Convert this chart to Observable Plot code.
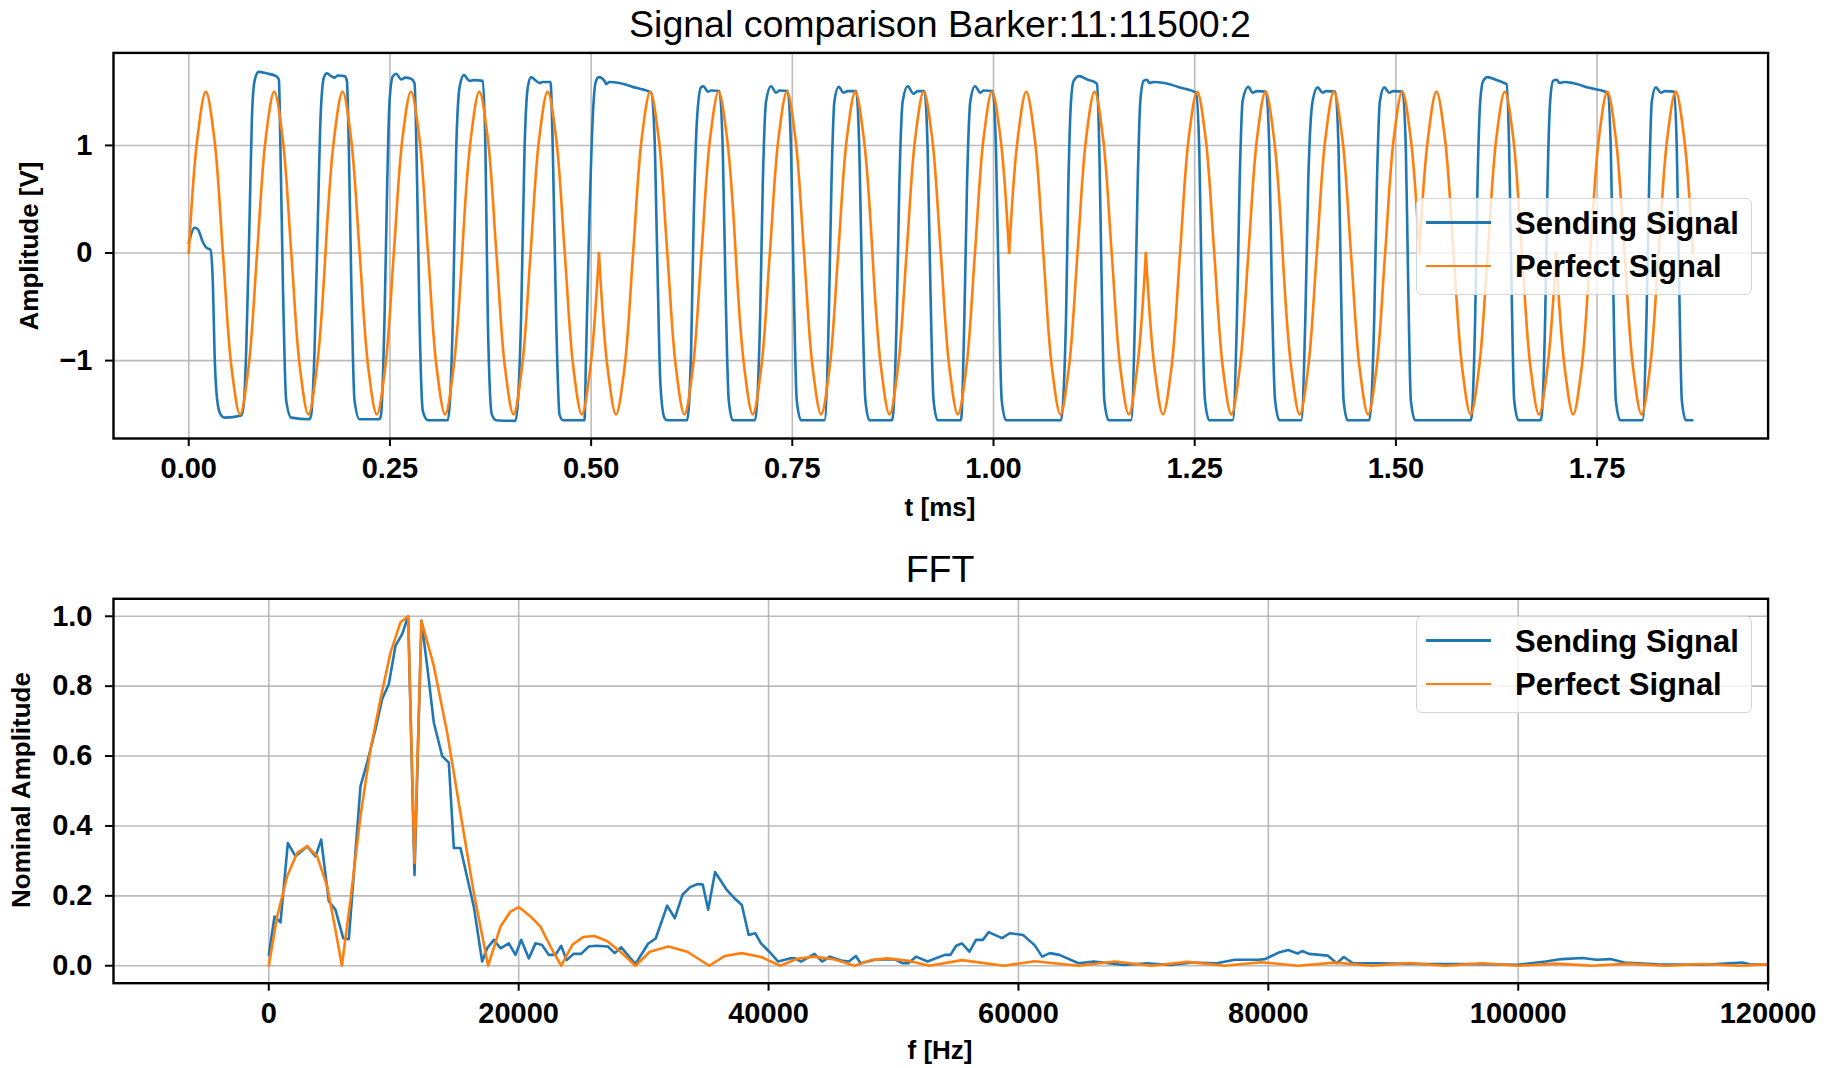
<!DOCTYPE html>
<html>
<head>
<meta charset="utf-8">
<script src="https://cdn.jsdelivr.net/npm/d3@7"></script>
<script src="https://cdn.jsdelivr.net/npm/@observablehq/plot@0.6"></script>
<style>
  html, body { margin: 0; padding: 0; background: #fff; }
  #fig { position: relative; width: 1827px; height: 1068px; background: #fff; overflow: hidden;
         font-family: "Liberation Sans", Arial, sans-serif; color: #000; }
  .abs { position: absolute; white-space: nowrap; line-height: 1; }
  .title { font-size: 37.5px; font-weight: normal; transform: translate(-50%, -50%); }
  .xlabel { font-size: 26px; font-weight: bold; transform: translate(-50%, -50%); }
  .ylabel { font-size: 26px; font-weight: bold; transform: translate(-50%, -50%) rotate(-90deg); }
  .legend { position: absolute; background: rgba(255,255,255,0.8); border: 1.5px solid #d6d6d6;
            border-radius: 6px; box-sizing: border-box; }
  .legend .ln { position: absolute; height: 2.6px; width: 65px; left: 9px; }
  .legend .lt { position: absolute; left: 98px; font-size: 31px; font-weight: bold; line-height: 1;
                transform: translateY(-50%); white-space: nowrap; }
  svg { position: absolute; left: 0; }
</style>
</head>
<body>
<div id="fig"></div>
<script>
// ---------------- DATA ----------------
// Top panel: time axis ticks (ms) and amplitude ticks (V)
const timeTicks = [0, 0.25, 0.5, 0.75, 1.0, 1.25, 1.5, 1.75];
const ampTicks = [-1, 0, 1];

// Perfect signal: samples every 1/8 carrier period (ms step), grouped per Barker chip (17 samples each, shared edges)
const perfectDt = 0.010619;
const perfectChips = [
  [0, 1.06, 1.5, 1.06, 0, -1.06, -1.5, -1.06, 0, 1.06, 1.5, 1.06, 0, -1.06, -1.5, -1.06, 0],
  [0, 1.06, 1.5, 1.06, 0, -1.06, -1.5, -1.06, 0, 1.06, 1.5, 1.06, 0, -1.06, -1.5, -1.06, 0],
  [0, 1.06, 1.5, 1.06, 0, -1.06, -1.5, -1.06, 0, 1.06, 1.5, 1.06, 0, -1.06, -1.5, -1.06, 0],
  [0, -1.06, -1.5, -1.06, 0, 1.06, 1.5, 1.06, 0, -1.06, -1.5, -1.06, 0, 1.06, 1.5, 1.06, 0],
  [0, -1.06, -1.5, -1.06, 0, 1.06, 1.5, 1.06, 0, -1.06, -1.5, -1.06, 0, 1.06, 1.5, 1.06, 0],
  [0, -1.06, -1.5, -1.06, 0, 1.06, 1.5, 1.06, 0, -1.06, -1.5, -1.06, 0, 1.06, 1.5, 1.06, 0],
  [0, 1.06, 1.5, 1.06, 0, -1.06, -1.5, -1.06, 0, 1.06, 1.5, 1.06, 0, -1.06, -1.5, -1.06, 0],
  [0, -1.06, -1.5, -1.06, 0, 1.06, 1.5, 1.06, 0, -1.06, -1.5, -1.06, 0, 1.06, 1.5, 1.06, 0],
  [0, -1.06, -1.5, -1.06, 0, 1.06, 1.5, 1.06, 0, -1.06, -1.5, -1.06, 0, 1.06, 1.5, 1.06, 0],
  [0, 1.06, 1.5, 1.06, 0, -1.06, -1.5, -1.06, 0, 1.06, 1.5, 1.06, 0, -1.06, -1.5, -1.06, 0],
  [0, -1.06, -1.5, -1.06, 0, 1.06, 1.5, 1.06, 0, -1.06, -1.5, -1.06, 0, 1.06, 1.5, 1.06, 0]
];

// Sending signal: [t (ms), amplitude (V)] vertices
const sendingPts = [
  [0.000, 0.09], [0.0073, 0.235], [0.0114, 0.22], [0.0176, 0.10], [0.0218, 0.05], [0.027, 0.03],
  [0.030, -0.29], [0.032, -0.91], [0.0354, -1.37], [0.0395, -1.50], [0.0445, -1.53], [0.0652, -1.51],
  [0.0685, -1.40], [0.0714, -0.91], [0.0756, 0.33], [0.0785, 1.26], [0.0818, 1.60], [0.0867, 1.684], [0.0963, 1.67], [0.1087, 1.644], [0.112, 1.61],
  [0.114, 0.95], [0.117, -0.29], [0.1211, -1.37], [0.1273, -1.53], [0.150, -1.545],
  [0.152, -1.51], [0.1563, -0.91], [0.1605, 0.33], [0.1638, 1.26], [0.1679, 1.63], [0.1716, 1.67], [0.177, 1.644], [0.1812, 1.63], [0.1853, 1.65], [0.1936, 1.644], [0.1965, 1.60],
  [0.199, 0.95], [0.202, -0.29], [0.206, -1.37], [0.2122, -1.545], [0.237, -1.545],
  [0.239, -1.50], [0.2433, -0.60], [0.2466, 0.64], [0.2495, 1.41], [0.2536, 1.644], [0.2578, 1.666], [0.264, 1.613], [0.2689, 1.63], [0.2764, 1.62], [0.2805, 1.58],
  [0.2838, 0.64], [0.2867, -0.60], [0.2909, -1.47], [0.2971, -1.554], [0.322, -1.554],
  [0.3282, -0.60], [0.3323, 0.95], [0.3365, 1.54], [0.3418, 1.653], [0.3489, 1.60], [0.3542, 1.607], [0.3654, 1.60],
  [0.3687, 0.95], [0.3716, -0.60], [0.3766, -1.50], [0.382, -1.554], [0.406, -1.56],
  [0.413, -0.60], [0.4172, 0.95], [0.4213, 1.54], [0.4255, 1.635], [0.4296, 1.613], [0.4358, 1.58], [0.44, 1.59], [0.4495, 1.59],
  [0.4524, 0.95], [0.4565, -0.60], [0.4607, -1.50], [0.4650, -1.554], [0.4917, -1.554],
  [0.4938, -0.91], [0.4979, 0.33], [0.502, 1.26], [0.5054, 1.58], [0.5095, 1.635], [0.5166, 1.60], [0.5186, 1.57], [0.5227, 1.59], [0.5352, 1.58], [0.5559, 1.535], [0.5745, 1.49],
  [0.5787, 1.10], [0.582, 0.02], [0.5861, -1.22], [0.591, -1.53], [0.5944, -1.554], [0.6192, -1.554],
  [0.6242, -0.91], [0.6275, 0.33], [0.6317, 1.26], [0.6366, 1.54], [0.6395, 1.55], [0.645, 1.50], [0.6491, 1.51], [0.6594, 1.505],
  [0.6636, 0.95], [0.6669, -0.29], [0.671, -1.37], [0.676, -1.554], [0.7037, -1.554],
  [0.710, -0.60], [0.7133, 0.64], [0.7174, 1.41], [0.7236, 1.55], [0.7298, 1.49], [0.734, 1.51], [0.7443, 1.505],
  [0.7484, 0.95], [0.7517, -0.29], [0.7555, -1.37], [0.7609, -1.554], [0.7899, -1.554],
  [0.7953, -0.60], [0.7986, 0.64], [0.8023, 1.41], [0.8077, 1.545], [0.8135, 1.49], [0.8189, 1.505], [0.8292, 1.505],
  [0.8333, 0.95], [0.8366, -0.29], [0.8408, -1.37], [0.8458, -1.554], [0.874, -1.554],
  [0.8797, -0.60], [0.883, 0.64], [0.8872, 1.41], [0.8934, 1.55], [0.9005, 1.48], [0.9058, 1.505], [0.9141, 1.505],
  [0.9182, 0.95], [0.9215, -0.29], [0.9255, -1.37], [0.9306, -1.554], [0.9596, -1.554],
  [0.9638, -0.60], [0.9671, 0.64], [0.9712, 1.41], [0.977, 1.55], [0.9837, 1.49], [0.9878, 1.51], [0.999, 1.505],
  [1.0031, 0.95], [1.0064, -0.29], [1.0102, -1.37], [1.0156, -1.554], [1.0839, -1.554],
  [1.0901, -0.60], [1.093, 0.64], [1.0963, 1.41], [1.0996, 1.60], [1.1066, 1.644], [1.117, 1.61], [1.1253, 1.59], [1.1286, 1.57],
  [1.1315, 0.95], [1.1344, -0.29], [1.1377, -1.37], [1.1431, -1.554], [1.1708, -1.554],
  [1.1758, -0.60], [1.1791, 0.64], [1.1824, 1.41], [1.1866, 1.60], [1.1907, 1.61], [1.1936, 1.58], [1.199, 1.59], [1.2123, 1.58], [1.233, 1.535], [1.2516, 1.49],
  [1.2557, 0.95], [1.2586, -0.29], [1.2628, -1.37], [1.2681, -1.554], [1.2971, -1.554],
  [1.3025, -0.60], [1.3058, 0.64], [1.3095, 1.41], [1.3166, 1.545], [1.322, 1.49], [1.3274, 1.505], [1.3386, 1.50],
  [1.3428, 0.95], [1.3457, -0.29], [1.3499, -1.37], [1.3553, -1.554], [1.3823, -1.554],
  [1.3875, -0.60], [1.3910, 0.64], [1.3965, 1.41], [1.4027, 1.54], [1.4089, 1.49], [1.4131, 1.505], [1.4247, 1.50],
  [1.4288, 0.95], [1.4317, -0.29], [1.435, -1.37], [1.44, -1.554], [1.4669, -1.554],
  [1.4731, -0.60], [1.4764, 0.64], [1.4801, 1.41], [1.4855, 1.54], [1.4917, 1.49], [1.4967, 1.505], [1.5083, 1.50],
  [1.5124, 0.95], [1.5153, -0.29], [1.5186, -1.37], [1.524, -1.554], [1.5932, -1.554],
  [1.5985, -0.60], [1.6014, 0.64], [1.6048, 1.41], [1.6085, 1.60], [1.6139, 1.635], [1.6242, 1.61], [1.6346, 1.58], [1.6375, 1.57],
  [1.6408, 0.95], [1.6437, -0.29], [1.647, -1.37], [1.6524, -1.554], [1.6801, -1.554],
  [1.6855, -0.60], [1.6884, 0.64], [1.6917, 1.41], [1.6954, 1.60], [1.6996, 1.61], [1.7037, 1.58], [1.7091, 1.59], [1.7195, 1.58], [1.7402, 1.535], [1.763, 1.49],
  [1.7671, 0.95], [1.77, -0.29], [1.7733, -1.37], [1.7787, -1.554], [1.8064, -1.554],
  [1.8114, -0.60], [1.8147, 0.64], [1.818, 1.41], [1.823, 1.54], [1.8292, 1.49], [1.8346, 1.505], [1.8458, 1.50],
  [1.8491, 0.95], [1.852, -0.29], [1.8553, -1.37], [1.8603, -1.554], [1.8685, -1.554]
];

// Bottom panel: frequency ticks (Hz) and amplitude ticks
const freqTicks = [0, 20000, 40000, 60000, 80000, 100000, 120000];
const nomTicks = [0, 0.2, 0.4, 0.6, 0.8, 1.0];

// FFT of sending signal: [f (Hz), nominal amplitude]
const fftSending = [
  [0, 0.031], [456, 0.141], [937, 0.124], [1524, 0.351], [2138, 0.313], [3072, 0.342], [3739, 0.313], [4193, 0.361],
  [4804, 0.184], [5338, 0.160], [5952, 0.079], [6405, 0.076], [7339, 0.514], [7873, 0.581], [8540, 0.677], [9074, 0.763],
  [9608, 0.806], [10141, 0.916], [10675, 0.949], [11155, 1.0], [11662, 0.260], [12219, 0.987], [12673, 0.858], [13207, 0.696],
  [13874, 0.600], [14408, 0.581], [14808, 0.337], [15341, 0.337], [16409, 0.169], [17076, 0.012], [17476, 0.050], [18010, 0.074],
  [18543, 0.050], [19210, 0.064], [19744, 0.031], [20198, 0.074], [20812, 0.021], [21345, 0.064], [21879, 0.059], [22413, 0.031],
  [22946, 0.031], [23400, 0.057], [23835, 0.016], [24386, 0.034], [24998, 0.034], [25610, 0.055], [26218, 0.057], [27139, 0.055],
  [27690, 0.036], [28211, 0.053], [28827, 0.026], [29347, 0.005], [30355, 0.063], [30965, 0.078], [31885, 0.172], [32500, 0.136],
  [33110, 0.203], [33725, 0.225], [34335, 0.234], [34735, 0.232], [35166, 0.160], [35718, 0.268], [36632, 0.218], [37246, 0.194],
  [37860, 0.174], [38410, 0.088], [38930, 0.093], [39390, 0.064], [40064, 0.040], [40770, 0.012], [41690, 0.021], [42140, 0.021],
  [42600, 0.012], [43680, 0.034], [44290, 0.012], [44900, 0.026], [45820, 0.015], [46430, 0.012], [46990, 0.028], [47360, 0.007],
  [48580, 0.018], [50110, 0.018], [50720, 0.007], [51180, 0.007], [51800, 0.026], [52720, 0.012], [54100, 0.031], [54560, 0.031],
  [55015, 0.057], [55470, 0.064], [56080, 0.040], [56600, 0.074], [57150, 0.074], [57610, 0.096], [58690, 0.079], [59300, 0.093],
  [60370, 0.088], [61290, 0.059], [61900, 0.026], [62510, 0.036], [63280, 0.031], [64810, 0.007], [66030, 0.012], [68420, 0.002],
  [70280, 0.007], [72140, 0.002], [73980, 0.009], [75850, 0.007], [77320, 0.017], [79180, 0.017], [79740, 0.019], [80850, 0.038],
  [81590, 0.045], [82340, 0.035], [82710, 0.042], [83260, 0.034], [84750, 0.029], [85480, 0.007], [86040, 0.025], [86780, 0.007],
  [88830, 0.007], [92540, 0.005], [96250, 0.005], [99960, 0.003], [102190, 0.012], [103480, 0.019], [105150, 0.022], [106270, 0.017],
  [107380, 0.019], [108490, 0.009], [111090, 0.004], [114800, 0.003], [117950, 0.009], [118510, 0.004], [119920, 0.003]
];

// FFT of perfect signal: [f (Hz), nominal amplitude]
const fftPerfect = [
  [0, 0], [670, 0.141], [1470, 0.256], [2271, 0.323], [3072, 0.342], [3872, 0.313], [4673, 0.227], [5338, 0.102], [5850, 0],
  [6538, 0.189], [7339, 0.428], [8140, 0.619], [8940, 0.763], [9741, 0.896], [10541, 0.983], [11155, 1.0], [11662, 0.294],
  [12219, 0.987], [13207, 0.858], [14275, 0.667], [15341, 0.437], [16409, 0.208], [17556, 0], [18543, 0.112], [19344, 0.155],
  [20011, 0.168], [20945, 0.141], [21745, 0.112], [22546, 0.055], [23400, 0], [24300, 0.06], [25150, 0.082], [26066, 0.085],
  [27100, 0.07], [28300, 0.035], [29350, 0], [30500, 0.04], [31982, 0.055], [33500, 0.04], [35255, 0], [36500, 0.028],
  [37856, 0.036], [39400, 0.025], [40921, 0], [42300, 0.02], [43673, 0.026], [45300, 0.018], [46889, 0], [48200, 0.016],
  [49500, 0.021], [51200, 0.014], [52870, 0], [55470, 0.016], [58840, 0], [61290, 0.013], [64810, 0], [67700, 0.012],
  [70620, 0], [73560, 0.011], [76500, 0], [79450, 0.010], [82390, 0], [85330, 0.009], [88275, 0], [91220, 0.008],
  [94160, 0], [97100, 0.007], [100045, 0], [103000, 0.006], [105930, 0], [108870, 0.006], [111815, 0], [114760, 0.005],
  [117700, 0], [120000, 0.004]
];

const seriesNames = ["Sending Signal", "Perfect Signal"];
const seriesColors = ["#1f77b4", "#ff7f0e"];

// ---------------- BUILD ----------------
const fig = document.getElementById("fig");
const perfectRows = [];
perfectChips.forEach((vals, c) => vals.forEach((v, i) => perfectRows.push({t: (c * 16 + i) * perfectDt, v, seg: c})));
const sendingRows = sendingPts.map(([t, v]) => ({t, v}));
const fftSendRows = fftSending.map(([f, v]) => ({f, v}));
const fftPerfRows = fftPerfect.map(([f, v]) => ({f, v}));

const gridStyle = {stroke: "#b0b0b0", strokeOpacity: 0.85, strokeWidth: 1.6};
const axisStyle = {tickSize: 8, strokeWidth: 2, stroke: "#000"};
const svgStyle = {fontFamily: "'Liberation Sans', Arial, sans-serif", fontSize: "29px", fontWeight: "bold", color: "#000", background: "transparent", overflow: "visible"};
const fmtMinus = d => (d < 0 ? "\u2212" + Math.abs(d) : String(d));

const topPlot = Plot.plot({
  width: 1827, height: 534,
  marginLeft: 113, marginRight: 59.4, marginTop: 52.4, marginBottom: 96,
  x: {domain: [-0.0935, 1.9625]},
  y: {domain: [-1.724, 1.860]},
  style: svgStyle,
  marks: [
    Plot.gridX(timeTicks, gridStyle),
    Plot.gridY(ampTicks, gridStyle),
    Plot.line(sendingRows, {x: "t", y: "v", stroke: seriesColors[0], strokeWidth: 2.6, curve: "monotone-x"}),
    Plot.line(perfectRows, {x: "t", y: "v", z: "seg", stroke: seriesColors[1], strokeWidth: 2.6, curve: "catmull-rom"}),
    Plot.axisX(timeTicks, {...axisStyle, tickPadding: 11, tickFormat: d => d.toFixed(2), label: null}),
    Plot.axisY(ampTicks, {...axisStyle, tickPadding: 13, tickFormat: fmtMinus, label: null}),
    Plot.frame({stroke: "#000", strokeWidth: 2.4})
  ]
});
topPlot.style.top = "0px";
fig.appendChild(topPlot);

const bottomPlot = Plot.plot({
  width: 1827, height: 534,
  marginLeft: 113, marginRight: 59.4, marginTop: 64.3, marginBottom: 85.3,
  x: {domain: [-12430, 120000]},
  y: {domain: [-0.05, 1.05]},
  style: svgStyle,
  marks: [
    Plot.gridX(freqTicks, gridStyle),
    Plot.gridY(nomTicks, gridStyle),
    Plot.line(fftSendRows, {x: "f", y: "v", stroke: seriesColors[0], strokeWidth: 2.6, clip: true}),
    Plot.line(fftPerfRows, {x: "f", y: "v", stroke: seriesColors[1], strokeWidth: 2.6, clip: true}),
    Plot.axisX(freqTicks, {...axisStyle, tickPadding: 11, tickFormat: d => String(d), label: null}),
    Plot.axisY(nomTicks, {...axisStyle, tickPadding: 13, tickFormat: d => d.toFixed(1), label: null}),
    Plot.frame({stroke: "#000", strokeWidth: 2.4})
  ]
});
bottomPlot.style.top = "534px";
fig.appendChild(bottomPlot);

function addText(cls, text, x, y) {
  const d = document.createElement("div");
  d.className = "abs " + cls;
  d.textContent = text;
  d.style.left = x + "px";
  d.style.top = y + "px";
  fig.appendChild(d);
}
addText("title", "Signal comparison Barker:11:11500:2", 940, 25);
addText("title", "FFT", 940, 570);
addText("xlabel", "t [ms]", 940, 507);
addText("xlabel", "f [Hz]", 940, 1050);
addText("ylabel", "Amplitude [V]", 29, 246);
addText("ylabel", "Nominal Amplitude", 21, 790);

function addLegend(x, y) {
  const box = document.createElement("div");
  box.className = "legend";
  box.style.left = x + "px"; box.style.top = y + "px";
  box.style.width = "336px"; box.style.height = "97px";
  seriesNames.forEach((name, i) => {
    const cy = 23.5 + i * 43.5;
    const ln = document.createElement("div");
    ln.className = "ln"; ln.style.top = (cy - 1.3) + "px"; ln.style.background = seriesColors[i];
    const lt = document.createElement("div");
    lt.className = "lt"; lt.style.top = cy + "px"; lt.textContent = name;
    box.appendChild(ln); box.appendChild(lt);
  });
  fig.appendChild(box);
}
addLegend(1416, 198);
addLegend(1416, 616);
</script>
</body>
</html>
